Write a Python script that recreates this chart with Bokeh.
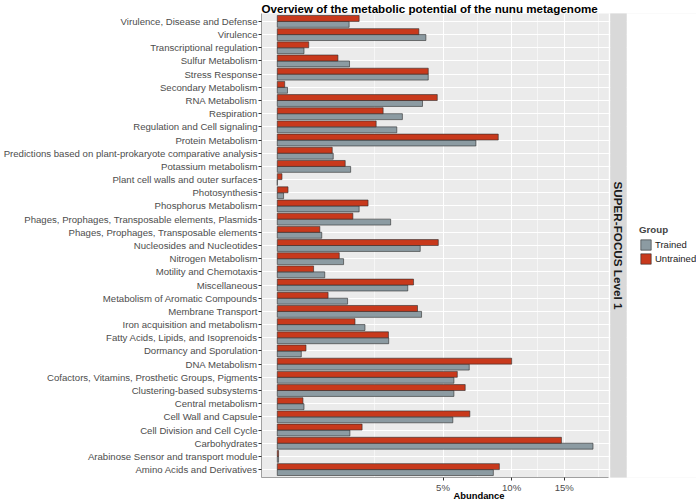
import math
import numpy as np
from bokeh.plotting import figure
from bokeh.models import (ColumnDataSource, FactorRange, Range1d, FixedTicker,
                          CustomJSTickFormatter, Legend, LegendItem)
from bokeh.transform import dodge
from bokeh.core.properties import value
from bokeh.embed import file_html
from bokeh.resources import INLINE

# ---------------- data (top to bottom, abundance in %) ----------------
categories = [
    "Virulence, Disease and Defense",
    "Virulence",
    "Transcriptional regulation",
    "Sulfur Metabolism",
    "Stress Response",
    "Secondary Metabolism",
    "RNA Metabolism",
    "Respiration",
    "Regulation and Cell signaling",
    "Protein Metabolism",
    "Predictions based on plant-prokaryote comparative analysis",
    "Potassium metabolism",
    "Plant cell walls and outer surfaces",
    "Photosynthesis",
    "Phosphorus Metabolism",
    "Phages, Prophages, Transposable elements, Plasmids",
    "Phages, Prophages, Transposable elements",
    "Nucleosides and Nucleotides",
    "Nitrogen Metabolism",
    "Motility and Chemotaxis",
    "Miscellaneous",
    "Metabolism of Aromatic Compounds",
    "Membrane Transport",
    "Iron acquisition and metabolism",
    "Fatty Acids, Lipids, and Isoprenoids",
    "Dormancy and Sporulation",
    "DNA Metabolism",
    "Cofactors, Vitamins, Prosthetic Groups, Pigments",
    "Clustering-based subsystems",
    "Central metabolism",
    "Cell Wall and Capsule",
    "Cell Division and Cell Cycle",
    "Carbohydrates",
    "Arabinose Sensor and transport module",
    "Amino Acids and Derivatives",
]
untrained = [1.22, 3.65, 0.18, 0.67, 4.15, 0.010, 4.66, 2.04, 1.78, 8.89,
             0.55, 0.84, 0.004, 0.021, 1.50, 1.04, 0.33, 4.72, 0.70, 0.24,
             3.38, 0.47, 3.58, 1.10, 2.25, 0.15, 10.0, 5.90, 6.43, 0.12,
             6.75, 1.31, 14.70, 0.0003, 8.98]
trained = [0.94, 4.02, 0.13, 0.95, 4.15, 0.019, 3.84, 2.85, 2.60, 7.18,
           0.57, 0.98, 0.0, 0.0072, 1.22, 2.34, 0.36, 3.72, 0.80, 0.41,
           3.10, 0.90, 3.79, 1.40, 2.26, 0.105, 6.71, 5.68, 5.68, 0.13,
           5.61, 0.96, 18.15, 0.0003, 8.50]
groups = ["Trained", "Untrained"]
group_colors = ["#8C9BA2", "#C8391C"]
tick_pct = [5, 10, 15]
facet_label = "SUPER-FOCUS Level 1"
title_text = "Overview of the metabolic potential of the nunu metagenome"

FONT = "Liberation Sans"
n = len(categories)

# sqrt-transformed x scale (like scale_x_sqrt)
m = math.sqrt(max(max(trained), max(untrained)))
x0, x1 = -0.05 * m, 1.05 * m
panel_px = 347.3
frame_px = 435.0
u = (x1 - x0) / panel_px
x_end = x0 + frame_px * u

major = [math.sqrt(t) for t in tick_pct]
d = major[1] - major[0]
minor = [major[0] - d, (major[0] + major[1]) / 2, (major[1] + major[2]) / 2,
         major[2] + d / 2]

src = ColumnDataSource(dict(cat=categories,
                            t=np.sqrt(np.array(trained)),
                            u=np.sqrt(np.array(untrained))))

# ggplot-like discrete expansion: 0.6 units beyond the first/last centres
p = figure(width=696, height=503, output_backend="svg", toolbar_location=None,
           x_range=Range1d(x0, x_end),
           y_range=FactorRange(factors=categories[::-1], range_padding=0.2 / n,
                               range_padding_units="percent"),
           min_border_left=261, min_border_right=0, min_border_top=0,
           min_border_bottom=0, background_fill_color="#EBEBEB",
           border_fill_color="white", outline_line_color=None)

p.title.text = title_text
p.title.text_font = FONT
p.title.text_font_size = "11.6px"
p.title.text_font_style = "bold"
p.title.text_color = "black"
p.title.align = "left"
p.title.offset = 0
p.title.standoff = -2

# grids
p.xgrid.ticker = FixedTicker(ticks=major, minor_ticks=minor)
p.xgrid.grid_line_color = "white"
p.xgrid.grid_line_width = 1.1
p.xgrid.minor_grid_line_color = "white"
p.xgrid.minor_grid_line_width = 0.55
p.ygrid.grid_line_color = "white"
p.ygrid.grid_line_width = 1.1

# bars
lw = 0.6
r_t = p.hbar(y=dodge("cat", -0.225, range=p.y_range), left=0, right="t",
             height=0.45, source=src, fill_color=group_colors[0],
             line_color="#2B2B2B", line_width=lw)
r_u = p.hbar(y=dodge("cat", 0.225, range=p.y_range), left=0, right="u",
             height=0.45, source=src, fill_color=group_colors[1],
             line_color="#2B2B2B", line_width=lw)

# facet strip + white areas outside the panel
gap = 1.5 * u
sx0, sx1 = x1 + gap, x1 + 18 * u
p.quad(left=[x1], right=[sx0], bottom=[-2], top=[n + 2], fill_color="white",
       line_color=None)
p.quad(left=[sx0], right=[sx1], bottom=[-2], top=[n + 2], fill_color="#D9D9D9",
       line_color=None)
p.quad(left=[sx1], right=[x_end + u], bottom=[-2], top=[n + 2],
       fill_color="white", line_color=None)
p.text(x=[(sx0 + sx1) / 2], y=[n / 2], text=[facet_label], angle=-math.pi / 2,
       text_font=value(FONT), text_font_style="bold", text_font_size="11.7px",
       text_align="center", text_baseline="middle", text_color="#1A1A1A")

# axes
xa = p.xaxis[0]
xa.ticker = FixedTicker(ticks=major)
xa.formatter = CustomJSTickFormatter(code="return Math.round(tick*tick) + '%';")
xa.bounds = (x0, x1)
xa.axis_label = "Abundance"
xa.axis_label_text_font = FONT
xa.axis_label_text_font_style = "bold"
xa.axis_label_text_font_size = "9.4px"
xa.axis_label_text_color = "black"
xa.axis_label_standoff = -6
xa.major_label_text_font = FONT
xa.major_label_text_font_size = "9.6px"
xa.major_label_text_color = "#4D4D4D"
xa.major_label_standoff = 1
xa.major_tick_out = 3
xa.major_tick_in = 0
xa.major_tick_line_color = "#333333"
xa.minor_tick_line_color = None
xa.axis_line_color = "#8A8A8A"
xa.axis_line_width = 0.8

ya = p.yaxis[0]
ya.major_label_text_font = FONT
ya.major_label_text_font_size = "9.6px"
ya.major_label_text_color = "#4D4D4D"
ya.major_label_standoff = 1
ya.major_tick_out = 3
ya.major_tick_in = 0
ya.major_tick_line_color = "#333333"
ya.axis_line_color = "#8A8A8A"
ya.axis_line_width = 0.8

# legend
legend = Legend(items=[LegendItem(label=groups[0], renderers=[r_t]),
                       LegendItem(label=groups[1], renderers=[r_u])],
                title="Group", location=(378, 212), padding=0, margin=0,
                border_line_color=None, background_fill_alpha=0,
                glyph_width=13, glyph_height=13, label_height=13, spacing=1,
                label_standoff=3, label_text_font=FONT,
                label_text_font_size="9.5px", label_text_color="#1A1A1A",
                title_text_font=FONT, title_text_font_size="9.7px",
                title_text_font_style="bold", title_standoff=3)
p.add_layout(legend)

open("out.html", "w").write(file_html(p, INLINE))
